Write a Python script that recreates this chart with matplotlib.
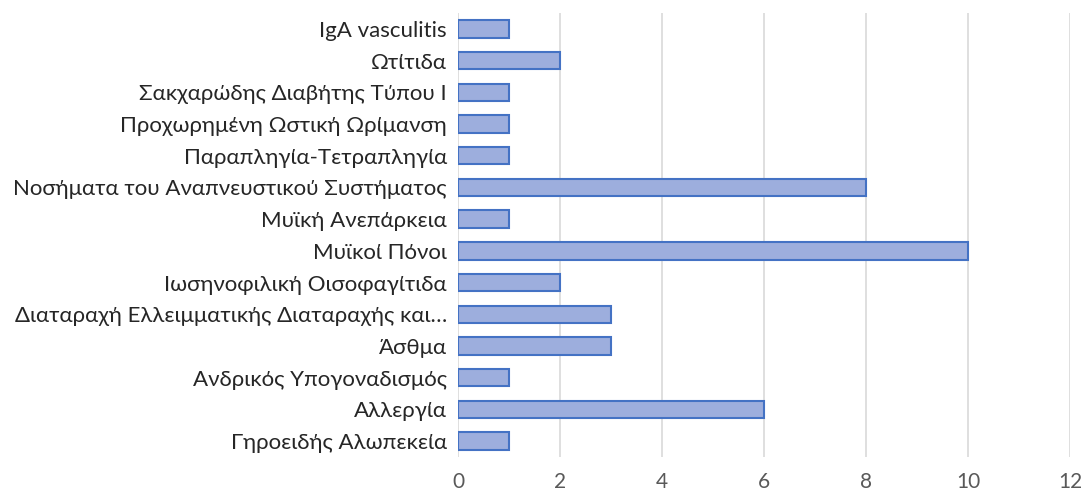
import matplotlib
matplotlib.use("Agg")
import matplotlib.pyplot as plt

categories = [
    "Γηροειδής Αλωπεκεία",
    "Αλλεργία",
    "Ανδρικός Υπογοναδισμός",
    "Άσθμα",
    "Διαταραχή Ελλειμματικής Διαταραχής και…",
    "Ιωσηνοφιλική Οισοφαγίτιδα",
    "Μυϊκοί Πόνοι",
    "Μυϊκή Ανεπάρκεια",
    "Νοσήματα του Αναπνευστικού Συστήματος",
    "Παραπληγία-Τετραπληγία",
    "Προχωρημένη Ωστική Ωρίμανση",
    "Σακχαρώδης Διαβήτης Τύπου Ι",
    "Ωτίτιδα",
    "IgA vasculitis",
]
values = [1, 6, 1, 3, 3, 2, 10, 1, 8, 1, 1, 1, 2, 1]
xticks = [0, 2, 4, 6, 8, 10, 12]

plt.rcParams['font.family'] = ['Lato', 'DejaVu Sans']

fig = plt.figure(figsize=(10.81, 4.98), dpi=100)
ax = fig.add_axes([458/1081, 1-457/498, (1070-458)/1081, (457-13)/498])

ypos = list(range(len(categories)))
ax.barh(ypos, values, height=0.55, color="#9DAEDD", edgecolor="#4472C4", linewidth=1.5, zorder=3)

ax.set_xlim(0, 12)
ax.set_ylim(-0.5, len(categories) - 0.5)
ax.set_xticks(xticks)
ax.set_xticklabels([str(t) for t in xticks], fontsize=15, color="#595959")
ax.set_yticks(ypos)
ax.set_yticklabels(categories, fontsize=16, color="#262626")
ax.tick_params(axis='both', length=0)
ax.tick_params(axis='x', pad=11)
ax.tick_params(axis='y', pad=8)
ax.grid(axis='x', color="#D9D9D9", linewidth=1.2, zorder=0)
for s in ax.spines.values():
    s.set_visible(False)

fig.savefig("out.png", dpi=100)
